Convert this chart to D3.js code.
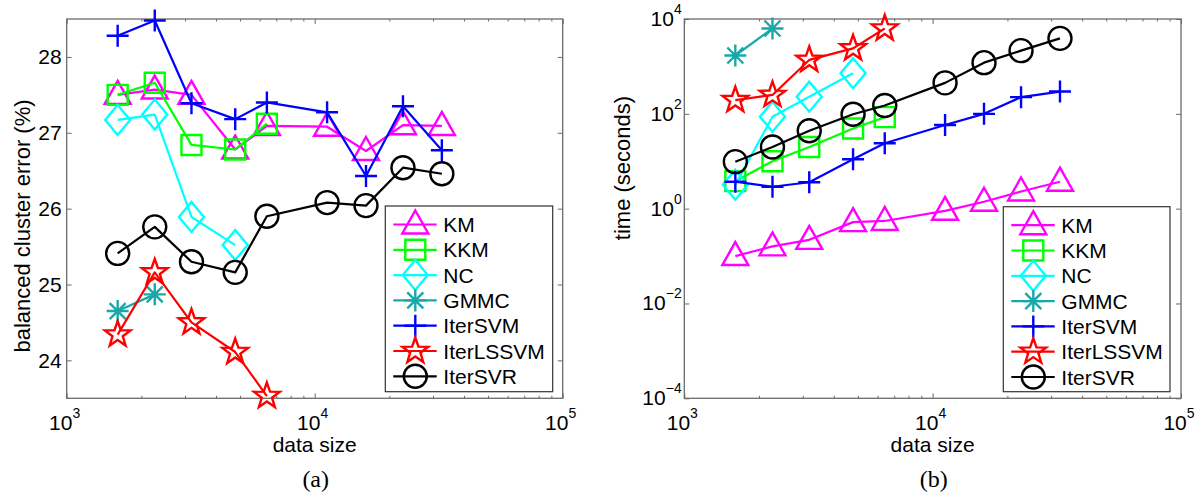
<!DOCTYPE html>
<html>
<head>
<meta charset="utf-8">
<script src="https://cdn.jsdelivr.net/npm/d3@7"></script>
<style>
  body { margin: 0; background: #fff; }
  text { font-family: "Liberation Sans", Arial, sans-serif; fill: #000; }
</style>
</head>
<body>
<svg id="chart"></svg>
<script>
// data sizes (adult a1a..a9a)
const sizes = [1605, 2265, 3185, 4781, 6414, 11220, 16100, 22696, 32561];

const methods = ["KM", "KKM", "NC", "GMMC", "IterSVM", "IterLSSVM", "IterSVR"];
const colors = ["#ff00ff", "#00ff00", "#00ffff", "#19a8a8", "#0000ff", "#ff0000", "#000000"];
const markers = ["triangle", "square", "diamond", "asterisk", "plus", "star", "circle"];

// (a) balanced cluster error (%)
const errKM = [27.5, 27.57, 27.5, 26.78, 27.09, 27.08, 26.76, 27.1, 27.09];
const errKKM = [27.5, 27.66, 26.84, 26.78, 27.12];
const errNC = [27.17, 27.24, 25.89, 25.52];
const errGMMC = [24.65, 24.87];
const errIterSVM = [28.28, 28.48, 27.39, 27.18, 27.4, 27.27, 26.43, 27.35, 26.77];
const errIterLSSVM = [24.34, 25.16, 24.5, 24.11, 23.53];
const errIterSVR = [25.41, 25.76, 25.3, 25.16, 25.9, 26.08, 26.04, 26.54, 26.46];

// (b) time (seconds)
const timeKM = [0.1, 0.16, 0.22, 0.52, 0.55, 0.9, 1.4, 2.3, 3.7];
const timeKKM = [3.8, 10, 20, 49, 85];
const timeNC = [3.2, 87, 230, 720];
const timeGMMC = [1700, 6300];
const timeIterSVM = [3.7, 2.9, 3.6, 11, 24, 58, 100, 225, 295];
const timeIterLSSVM = [195, 250, 1370, 2400, 6300];
const timeIterSVR = [9.8, 20, 44, 98, 150, 450, 1200, 2150, 3900];

const errSeries = [errKM, errKKM, errNC, errGMMC, errIterSVM, errIterLSSVM, errIterSVR];
const timeSeries = [timeKM, timeKKM, timeNC, timeGMMC, timeIterSVM, timeIterLSSVM, timeIterSVR];

const errTicks = [24, 25, 26, 27, 28];
const timeTicks = [1e-4, 1e-2, 1e0, 1e2, 1e4];
const xMajor = [1e3, 1e4, 1e5];

const W = 1202, H = 495;
const svg = d3.select("#chart").attr("width", W).attr("height", H);
svg.append("rect").attr("width", W).attr("height", H).attr("fill", "#fff");

const axisColor = "#6b6b6b";

// minor ticks 2..9 x 10^k
const xMinor = [];
[1e3, 1e4].forEach(b => { for (let k = 2; k <= 9; k++) xMinor.push(b * k); });

function symbolPath(type) {
  switch (type) {
    case "triangle": return "M0,-14L13,9L-13,9Z";
    case "square": return "M-10,-10H10V10H-10Z";
    case "diamond": return "M0,-15L12.5,0L0,15L-12.5,0Z";
    case "asterisk": return "M-11,0H11M0,-11V11M-8,-8L8,8M-8,8L8,-8";
    case "plus": return "M-11,0H11M0,-11V11";
    case "star": {
      let p = "";
      for (let i = 0; i < 10; i++) {
        const r = i % 2 === 0 ? 13.5 : 5.4;
        const a = -Math.PI / 2 + i * Math.PI / 5;
        p += (i === 0 ? "M" : "L") + (r * Math.cos(a)).toFixed(2) + "," + (r * Math.sin(a)).toFixed(2);
      }
      return p + "Z";
    }
    case "circle": return "M11.5,0A11.5,11.5 0 1,1 -11.5,0A11.5,11.5 0 1,1 11.5,0Z";
  }
}

function powLabel(g, x, y, exp, anchor) {
  const t = g.append("text")
    .attr("x", x).attr("y", y)
    .attr("text-anchor", anchor)
    .style("font-size", "21px");
  t.append("tspan").text("10");
  t.append("tspan").attr("dy", -12).style("font-size", "14px")
    .text(exp < 0 ? "\u2212" + (-exp) : exp);
}

function drawPanel(p) {
  const x = d3.scaleLog().domain([1e3, 1e5]).range([p.left, p.right]);
  const y = p.logY
    ? d3.scaleLog().domain([1e-4, 1e4]).range([p.bottom, p.top])
    : d3.scaleLinear().domain([23.5, 28.5]).range([p.bottom, p.top]);

  const g = svg.append("g");

  // ticks (inward) via d3 axes
  const styleAxis = sel => {
    sel.select(".domain").remove();
    sel.selectAll("line").attr("stroke", axisColor).attr("stroke-width", 1);
    sel.selectAll("text").remove();
  };
  g.append("g").attr("transform", `translate(0,${p.bottom})`)
    .call(d3.axisBottom(x).tickValues(xMajor).tickSize(-5).tickFormat("")).call(styleAxis);
  g.append("g").attr("transform", `translate(0,${p.bottom})`)
    .call(d3.axisBottom(x).tickValues(xMinor).tickSize(-2.5).tickFormat("")).call(styleAxis);
  g.append("g").attr("transform", `translate(0,${p.top})`)
    .call(d3.axisTop(x).tickValues(xMajor).tickSize(-5).tickFormat("")).call(styleAxis);
  g.append("g").attr("transform", `translate(0,${p.top})`)
    .call(d3.axisTop(x).tickValues(xMinor).tickSize(-2.5).tickFormat("")).call(styleAxis);
  g.append("g").attr("transform", `translate(${p.left},0)`)
    .call(d3.axisLeft(y).tickValues(p.yTicks).tickSize(-5).tickFormat("")).call(styleAxis);
  g.append("g").attr("transform", `translate(${p.right},0)`)
    .call(d3.axisRight(y).tickValues(p.yTicks).tickSize(-5).tickFormat("")).call(styleAxis);

  // box
  g.append("rect")
    .attr("x", p.left).attr("y", p.top)
    .attr("width", p.right - p.left).attr("height", p.bottom - p.top)
    .attr("fill", "none").attr("stroke", axisColor).attr("stroke-width", 1.3);

  // x tick labels
  xMajor.forEach(v => powLabel(g, x(v) - 2, p.bottom + 31.7, Math.round(Math.log10(v)), "middle"));

  // y tick labels
  p.yTicks.forEach(v => {
    if (p.logY) {
      powLabel(g, p.left - 2.6, y(v) + 7, Math.round(Math.log10(v)), "end");
    } else {
      g.append("text").attr("x", p.left - 5).attr("y", y(v) + 7.5)
        .attr("text-anchor", "end").style("font-size", "21px").text(v);
    }
  });

  // axis labels
  g.append("text")
    .attr("transform", `translate(${p.yLabelX},${p.yLabelY}) rotate(-90)`)
    .attr("text-anchor", "middle").style("font-size", "22px").text(p.yLabel);
  g.append("text")
    .attr("x", x(1e4)).attr("y", p.bottom + 53.5)
    .attr("text-anchor", "middle").style("font-size", "21px").text("data size");
  g.append("text")
    .attr("x", x(1e4) + 1).attr("y", 487)
    .attr("text-anchor", "middle")
    .style("font-family", "'Liberation Serif', 'Times New Roman', serif")
    .style("font-size", "24px").text(p.caption);

  // series
  const line = d3.line().x(d => x(d[0])).y(d => y(d[1]));
  p.series.forEach((vals, i) => {
    const pts = vals.map((v, j) => [sizes[j], v]);
    const s = g.append("g");
    s.append("path").datum(pts).attr("d", line)
      .attr("fill", "none").attr("stroke", colors[i]).attr("stroke-width", 2.2)
      .attr("stroke-linejoin", "round");
    s.selectAll(".mk").data(pts).enter().append("path")
      .attr("class", "mk")
      .attr("transform", d => `translate(${x(d[0])},${y(d[1])})`)
      .attr("d", symbolPath(markers[i]))
      .attr("fill", "none").attr("stroke", colors[i]).attr("stroke-width", 2.4)
      .attr("stroke-linejoin", "miter");
  });

  // legend
  const lg = g.append("g");
  lg.append("rect")
    .attr("x", p.legend.x0).attr("y", p.legend.y0)
    .attr("width", p.legend.x1 - p.legend.x0).attr("height", p.legend.y1 - p.legend.y0)
    .attr("fill", "#fff").attr("stroke", "#333").attr("stroke-width", 1.2);
  methods.forEach((m, i) => {
    const cy = p.legend.y0 + 18.5 + i * 25.3;
    const lx = p.legend.x0 + 8;
    lg.append("line").attr("x1", lx).attr("x2", lx + 43.4)
      .attr("y1", cy).attr("y2", cy)
      .attr("stroke", colors[i]).attr("stroke-width", 2.2);
    lg.append("path").attr("transform", `translate(${lx + 22},${cy})`)
      .attr("d", symbolPath(markers[i]))
      .attr("fill", "none").attr("stroke", colors[i]).attr("stroke-width", 2.4);
    lg.append("text").attr("x", lx + 50).attr("y", cy + 7.5)
      .style("font-size", "21px").text(m);
  });
}

drawPanel({
  left: 66.7, right: 562.7, top: 19, bottom: 398.3,
  logY: false, yTicks: errTicks,
  yLabel: "balanced cluster error (%)", yLabelX: 30, yLabelY: 226,
  caption: "(a)", series: errSeries,
  legend: { x0: 385.3, x1: 552.7, y0: 206, y1: 391.7 }
});

drawPanel({
  left: 684.3, right: 1181, top: 19, bottom: 398.3,
  logY: true, yTicks: timeTicks,
  yLabel: "time (seconds)", yLabelX: 630, yLabelY: 168,
  caption: "(b)", series: timeSeries,
  legend: { x0: 1003.3, x1: 1170, y0: 206.7, y1: 391.7 }
});
</script>
</body>
</html>
